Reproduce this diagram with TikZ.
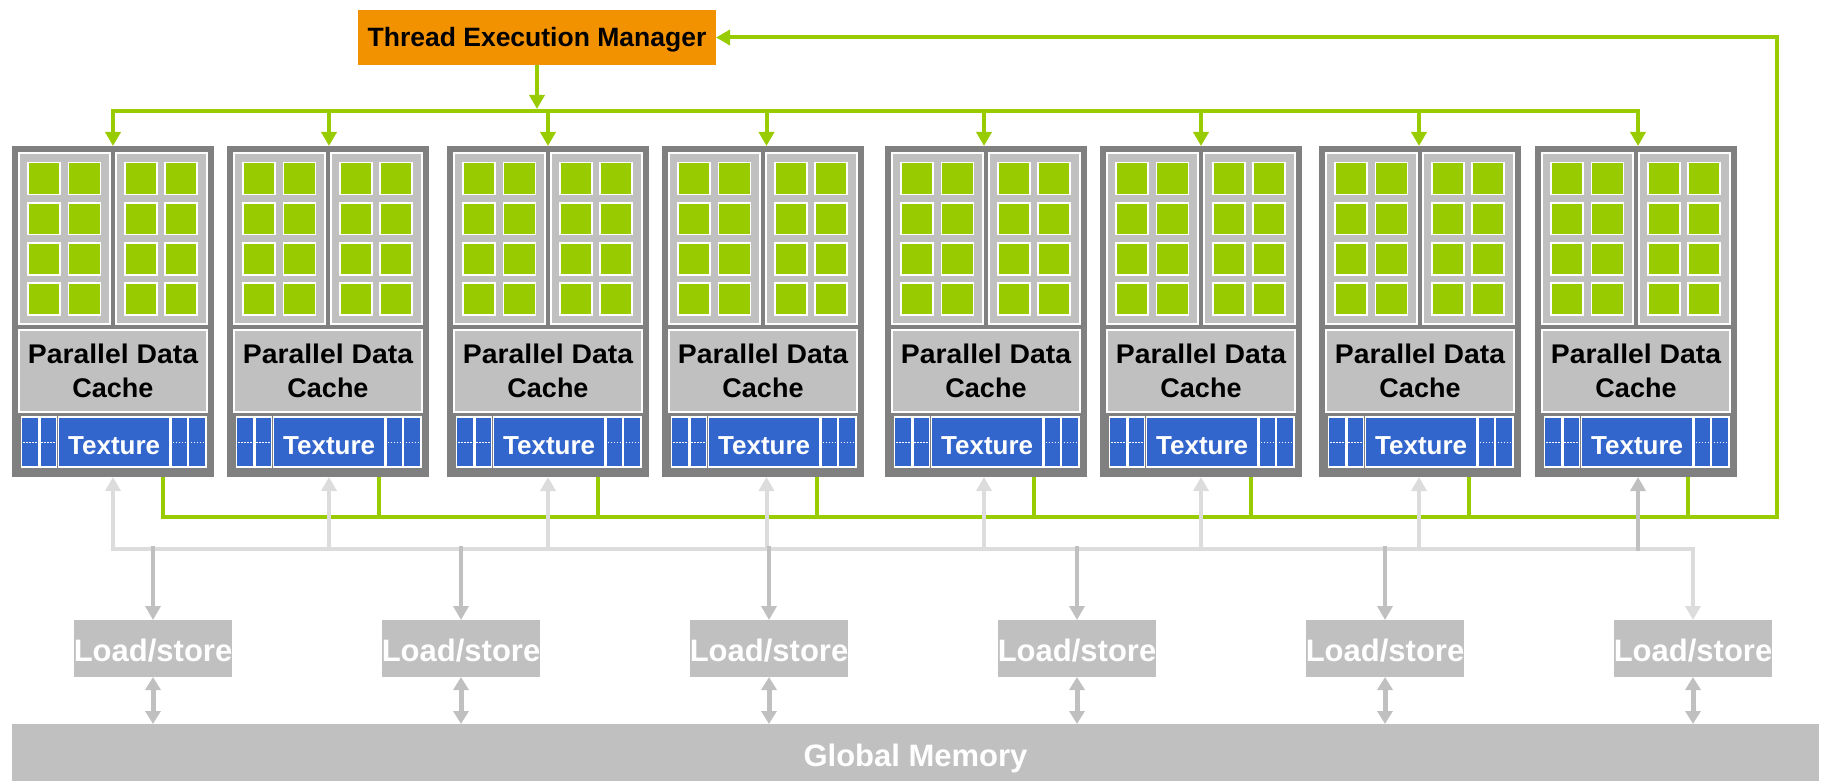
\documentclass[tikz,border=0pt]{standalone}
\usepackage{fontspec}
\usepackage{graphicx}
\setmainfont{Liberation Sans}
\usetikzlibrary{arrows.meta,calc}
\definecolor{nvgreen}{RGB}{153,204,0}
\definecolor{temorange}{RGB}{243,146,0}
\definecolor{dgray}{RGB}{128,128,128}
\definecolor{lgray}{RGB}{192,192,192}
\definecolor{vlgray}{RGB}{220,220,220}
\definecolor{texblue}{RGB}{51,102,204}
\begin{document}
\begin{tikzpicture}[x=1pt,y=-1pt,
  tembox/.style={fill=temorange, minimum width=358pt, minimum height=55pt, inner sep=0pt, outer sep=0pt,
    text=black, text height=19pt, text depth=0pt, font=\fontsize{26.5}{30}\selectfont\bfseries},
  smblock/.style={fill=dgray, minimum width=202pt, minimum height=331pt, inner sep=0pt, outer sep=0pt},
  colbox/.style={fill=lgray, draw=white, line width=1.2pt},
  core/.style={fill=nvgreen, draw=white, line width=1.5pt},
  pdcbox/.style={fill=lgray, draw=white, line width=1.2pt, minimum width=188pt, minimum height=82pt,
    inner sep=0pt, outer sep=0pt, align=center, text=black, font=\fontsize{27}{34}\selectfont\bfseries},
  texcell/.style={fill=texblue, draw=white, line width=1.2pt},
  texmain/.style={fill=texblue, draw=white, line width=1.2pt, minimum width=111.7pt, minimum height=50pt,
    inner sep=0pt, outer sep=0pt, text=white, text height=18.6pt, text depth=0pt,
    font=\fontsize{26}{30}\selectfont\bfseries},
  texdots/.style={draw=white, line width=1pt, dash pattern=on 1.5pt off 1.5pt},
  lsbox/.style={fill=lgray, minimum width=157pt, minimum height=57pt, inner sep=0pt, outer sep=0pt,
    text=white, text height=22.2pt, text depth=0pt, font=\fontsize{31}{34}\selectfont\bfseries},
  gmbox/.style={fill=lgray, minimum width=1807pt, minimum height=57pt, inner sep=0pt, outer sep=0pt,
    text=white, text height=22.2pt, text depth=0pt, font=\fontsize{31}{34}\selectfont\bfseries},
  gline/.style={draw=nvgreen, line width=4pt},
  garrow/.style={gline, -{Triangle[width=15pt,length=14pt]}},
  lline/.style={draw=vlgray, line width=4pt},
  larrow/.style={lline, -{Triangle[width=15pt,length=14pt]}},
  darrow/.style={draw=lgray, line width=4pt, -{Triangle[width=15pt,length=14pt]}},
  dblarrow/.style={draw=lgray, line width=5pt, {Triangle[width=15pt,length=13pt]}-{Triangle[width=15pt,length=13pt]}}
]
\useasboundingbox (0,0) rectangle (1837,781);

% Thread Execution Manager
\node[tembox] (tem) at (537,37.5) {Thread Execution Manager};
\coordinate (d0) at (537,111);

% Streaming multiprocessor blocks: index / left edge / arrow x
\foreach \i/\L/\A in {1/12/113, 2/227/329, 3/447/548, 4/662/766.5, 5/885/984, 6/1100/1201, 7/1319/1419, 8/1535/1638}{
  \node[smblock, anchor=north west] (sm\i) at (\L,146) {};
  \coordinate (a\i) at (\A,146);
  \coordinate (r\i) at (\A+50,477);
  \foreach \cx in {7,104}{
    \filldraw[colbox] (\L+\cx,153) rectangle ++(91,171);
  }
  \foreach \sx in {15.3,55.7,112.3,152.3}{
    \foreach \sy in {162,202,242.3,282.3}{
      \filldraw[core] (\L+\sx+0.75,\sy+0.75) rectangle ++(31.8,31.8);
    }
  }
  \node[pdcbox, anchor=north west] (pdc\i) at (\L+7,330) {\scalebox{1.05}[1]{Parallel Data}\\Cache};
  \filldraw[texcell] (\L+9.7,417) rectangle (\L+27,467);
  \filldraw[texcell] (\L+28,417) rectangle (\L+44.7,467);
  \node[texmain, anchor=north west] (tex\i) at (\L+46.3,417) {\raisebox{-3pt}{Texture}};
  \filldraw[texcell] (\L+159,417) rectangle (\L+175.7,467);
  \filldraw[texcell] (\L+176.7,417) rectangle (\L+194,467);
  \draw[texdots] (\L+11,442) -- (\L+43.5,442);
  \draw[texdots] (\L+160.5,442) -- (\L+192.5,442);
}

% Load/store units and global memory
\foreach \j in {1,...,6}{
  \node[lsbox] (ls\j) at ({153+308*(\j-1)},648.5) {\raisebox{-1.5pt}{Load/store}};
}
\node[gmbox] (gm) at (915.5,752.5) {\raisebox{-3pt}{Global Memory}};

% Distribution from the thread execution manager
\draw[garrow, shorten >=2pt] (tem.south) -- (d0);
\draw[gline, line cap=rect] (a1 |- d0) -- (a8 |- d0);
\foreach \i in {1,...,8}{
  \draw[garrow] (a\i |- d0) -- (a\i |- sm\i.north);
}

% Green return path
\coordinate (gb) at (1777,517);
\foreach \i in {1,...,8}{
  \draw[gline] (r\i |- sm\i.south) -- ($(r\i |- gb)+(0,2)$);
}
\draw[garrow, line join=miter] (r1 |- gb) -- (gb) -- (gb |- tem.east) -- (tem.east);

% Memory network
\coordinate (hb) at (0,549);
\draw[larrow, line join=miter] (a1 |- hb) -- (ls6.north |- hb) -- (ls6.north);
\foreach \i in {1,...,7}{
  \draw[larrow] ($(a\i |- hb)+(0,2)$) -- (a\i |- sm\i.south);
}
\draw[darrow] ($(a8 |- hb)+(0,2)$) -- (a8 |- sm8.south);
\foreach \j in {1,...,5}{
  \draw[darrow] ($(ls\j.north |- hb)+(0,-3)$) -- (ls\j.north);
}
\foreach \j in {1,...,6}{
  \draw[dblarrow] (ls\j.south) -- (ls\j.south |- gm.north);
}
\end{tikzpicture}
\end{document}
